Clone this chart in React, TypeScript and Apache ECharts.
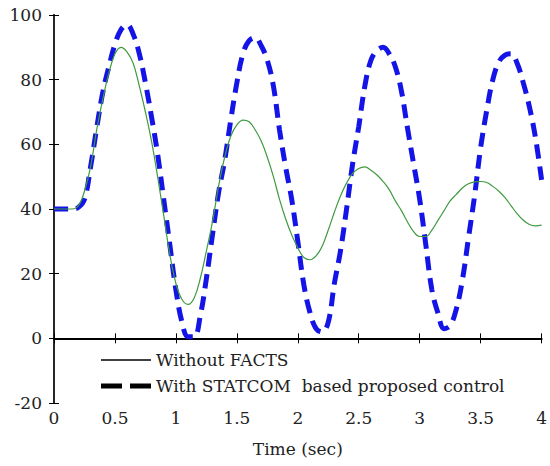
import React, { useEffect, useRef } from "react";
import * as echarts from "echarts";

const times: number[] = [
  0, 0.05, 0.1, 0.15, 0.2, 0.25, 0.3, 0.35, 0.4, 0.45,
  0.5, 0.55, 0.6, 0.65, 0.7, 0.75, 0.8, 0.85, 0.9, 0.95,
  1.0, 1.05, 1.1, 1.15, 1.2, 1.25, 1.3, 1.35, 1.4, 1.45,
  1.5, 1.55, 1.6, 1.65, 1.7, 1.75, 1.8, 1.85, 1.9, 1.95,
  2.0, 2.05, 2.1, 2.15, 2.2, 2.25, 2.3, 2.35, 2.4, 2.45,
  2.5, 2.55, 2.6, 2.65, 2.7, 2.75, 2.8, 2.85, 2.9, 2.95,
  3.0, 3.05, 3.1, 3.15, 3.2, 3.25, 3.3, 3.35, 3.4, 3.45,
  3.5, 3.55, 3.6, 3.65, 3.7, 3.75, 3.8, 3.85, 3.9, 3.95,
  4.0,
];

const withoutFacts: number[] = [
  40, 40, 40, 40, 41, 45.5, 53, 64.5, 74, 82,
  88, 90, 88.5, 85, 78, 70, 61, 50, 38, 26,
  17, 12, 10.5, 12.5, 18.5, 27, 36, 47, 56, 62.5,
  66, 67.5, 67, 64.5, 61, 56, 50, 43, 37, 32,
  28, 25, 24.3, 25.5, 28.5, 33.5, 39, 44, 48, 51,
  52.5, 53, 52, 50.5, 48.5, 46, 42.5, 39.5, 36, 33,
  31.5, 31.5, 33.5, 36.5, 39.5, 42.5, 44.5, 46.5, 47.8, 48.4,
  48.5, 48.2, 47, 45.5, 43.5, 41, 38.5, 36.5, 35.2, 34.8,
  35,
];

const withStatcom: number[] = [
  40, 40, 40, 40, 40.5, 43, 53, 65, 76, 84,
  91, 95.5, 97, 94, 88, 79, 68.5, 57, 43, 29,
  15, 5, 0.5, 0.5, 7, 18.5, 32, 45, 55, 67.5,
  79, 88, 92, 93, 90.5, 86, 78, 64.5, 53, 43,
  30, 16.5, 8, 3, 2, 5, 17, 27, 40, 54,
  65.5, 78, 86, 89, 90, 88, 84, 76.5, 65, 54,
  43, 29, 15, 7.8, 3, 4, 9, 18, 31, 44,
  59, 70.5, 80, 85.5, 87.6, 88, 85, 79, 71.6, 62,
  49,
];

const seriesNames: string[] = ["Without FACTS", "With STATCOM  based proposed control"];
const xAxisTitle = "Time (sec)";

const FONT = "DejaVu Serif";

export default function App() {
  const ref = useRef<HTMLDivElement>(null);

  useEffect(() => {
    if (!ref.current) return;
    const chart = echarts.init(ref.current, undefined, { renderer: "svg" });
    const pairs = (ys: number[]) => times.map((t, i) => [t, ys[i]]);
    const textBase = { fontFamily: FONT, fontSize: 17, color: "#222" };
    chart.setOption({
      animation: false,
      backgroundColor: "#ffffff",
      textStyle: { fontFamily: FONT, fontSize: 17 },
      grid: { left: 54, right: 3, top: 15, bottom: 63, containLabel: false },
      legend: {
        orient: "vertical",
        left: 96,
        top: 345,
        itemWidth: 50,
        itemHeight: 14,
        itemGap: 6,
        symbolKeepAspect: true,
        textStyle: { fontFamily: FONT, fontSize: 17, color: "#222", lineHeight: 20 },
        data: [
          {
            name: seriesNames[0],
            icon: "path://M0,0H50V1.4H0Z",
            itemStyle: { color: "#000", borderWidth: 0 },
          },
          {
            name: seriesNames[1],
            icon: "path://M0,0H21V5H0Z M29,0H50V5H29Z",
            itemStyle: { color: "#000", borderWidth: 0 },
          },
        ],
      },
      xAxis: [
        {
          type: "value",
          min: 0,
          max: 4,
          interval: 0.5,
          position: "bottom",
          name: xAxisTitle,
          nameLocation: "middle",
          nameGap: 37,
          nameTextStyle: textBase,
          axisLine: { show: true, lineStyle: { color: "#000", width: 2 } },
          axisTick: { show: true, inside: true, length: 5, lineStyle: { color: "#000" } },
          axisLabel: { fontFamily: FONT, fontSize: 17, color: "#222", margin: 6 },
          splitLine: { show: false },
        },
        {
          type: "value",
          min: 0,
          max: 4,
          interval: 0.5,
          position: "top",
          axisLine: { show: true, lineStyle: { color: "#000", width: 1.5 } },
          axisTick: { show: true, inside: true, length: 5, lineStyle: { color: "#000" } },
          axisLabel: { show: false },
          splitLine: { show: false },
        },
      ],
      yAxis: [
        {
          type: "value",
          min: -20,
          max: 100,
          interval: 20,
          position: "left",
          axisLine: { show: true, lineStyle: { color: "#000", width: 2 } },
          axisTick: { show: true, inside: true, length: 5, lineStyle: { color: "#000" } },
          axisLabel: { fontFamily: FONT, fontSize: 17, color: "#222", margin: 12 },
          splitLine: { show: false },
        },
        {
          type: "value",
          min: -20,
          max: 100,
          interval: 20,
          position: "right",
          axisLine: { show: true, lineStyle: { color: "#333", width: 1.5 } },
          axisTick: { show: true, inside: true, length: 5, lineStyle: { color: "#000" } },
          axisLabel: { show: false },
          splitLine: { show: false },
        },
      ],
      series: [
        {
          name: seriesNames[0],
          type: "line",
          xAxisIndex: 0,
          yAxisIndex: 0,
          data: pairs(withoutFacts),
          symbol: "none",
          smooth: 0.4,
          lineStyle: { color: "#3f9a3f", width: 1.2 },
          z: 3,
        },
        {
          name: seriesNames[1],
          type: "line",
          xAxisIndex: 0,
          yAxisIndex: 0,
          data: pairs(withStatcom),
          symbol: "none",
          smooth: 0.4,
          lineStyle: { color: "#1414e6", width: 5, type: [14, 8] },
          z: 2,
        },
      ],
    });
    return () => chart.dispose();
  }, []);

  return (
    <div
      ref={ref}
      style={{ position: "fixed", left: 0, top: 0, width: 550, height: 466, background: "#fff" }}
    />
  );
}
